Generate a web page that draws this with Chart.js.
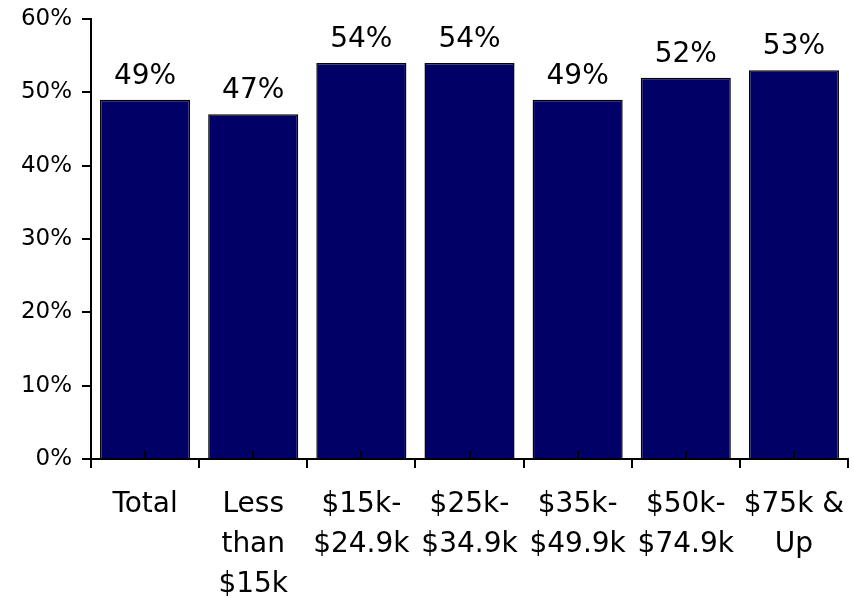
<!DOCTYPE html>
<html>
<head>
<meta charset="utf-8">
<script src="https://cdn.jsdelivr.net/npm/chart.js@4.4.1/dist/chart.umd.min.js"></script>
<style>
  html, body { margin: 0; padding: 0; background: #fff; }
  #chart { display: block; }
</style>
</head>
<body>
<canvas id="chart" width="854" height="598"></canvas>
<script>
// categorias de ingreso (etiquetas en varias lineas)
const categorias = [
    ['Total'],
    ['Less', 'than', '$15k'],
    ['$15k-', '$24.9k'],
    ['$25k-', '$34.9k'],
    ['$35k-', '$49.9k'],
    ['$50k-', '$74.9k'],
    ['$75k &', 'Up']
];
// valores en porcentaje
const valores = [49, 47, 54, 54, 49, 52, 53];
// eje y
const yMin = 0;
const yMax = 60;
const yPaso = 10;

const fuente = 'DejaVu Sans';

// etiquetas encima de cada barra
const etiquetasBarras = {
    id: 'etiquetasBarras',
    afterDatasetsDraw(chart) {
        const { ctx } = chart;
        const meta = chart.getDatasetMeta(0);
        ctx.save();
        ctx.font = '28px "' + fuente + '"';
        ctx.fillStyle = '#000';
        ctx.textAlign = 'center';
        ctx.textBaseline = 'alphabetic';
        meta.data.forEach((bar, i) => {
            ctx.fillText(valores[i] + '%', bar.x, bar.y - 16);
        });
        ctx.restore();
    }
};

// marcas pequeñas hacia arriba en el centro de cada categoria
const marcasCentro = {
    id: 'marcasCentro',
    afterDatasetsDraw(chart) {
        const { ctx, scales } = chart;
        const x = scales.x;
        const base = chart.chartArea.bottom;
        ctx.save();
        ctx.strokeStyle = '#000';
        ctx.lineWidth = 2;
        ctx.beginPath();
        for (let i = 0; i < categorias.length; i++) {
            const px = Math.round(x.getPixelForValue(i));
            ctx.moveTo(px, base);
            ctx.lineTo(px, base - 8);
        }
        ctx.stroke();
        ctx.restore();
    }
};

new Chart(document.getElementById('chart'), {
    type: 'bar',
    data: {
        labels: categorias,
        datasets: [{
            data: valores,
            backgroundColor: '#000066',
            borderColor: '#000000',
            borderWidth: 1.5,
            categoryPercentage: 1,
            barPercentage: 0.833
        }]
    },
    options: {
        responsive: false,
        animation: false,
        layout: { padding: 0 },
        plugins: {
            legend: { display: false },
            tooltip: { enabled: false }
        },
        scales: {
            x: {
                afterFit(scale) {
                    scale.height = 139;
                    scale.paddingLeft = 0;
                    scale.paddingRight = 6;
                },
                grid: {
                    offset: true,
                    drawOnChartArea: false,
                    drawTicks: true,
                    tickLength: 9,
                    color: '#000',
                    lineWidth: 2
                },
                border: { display: true, color: '#000', width: 2 },
                ticks: {
                    color: '#000',
                    font: { family: fuente, size: 28, lineHeight: 1.43 },
                    padding: 17,
                    maxRotation: 0,
                    autoSkip: false
                }
            },
            y: {
                min: yMin,
                max: yMax,
                afterFit(scale) {
                    scale.width = 91;
                    scale.paddingTop = 19;
                    scale.paddingBottom = 0;
                },
                grid: {
                    drawOnChartArea: false,
                    drawTicks: true,
                    tickLength: 9,
                    color: '#000',
                    lineWidth: 2
                },
                border: { display: true, color: '#000', width: 2 },
                ticks: {
                    stepSize: yPaso,
                    color: '#000',
                    font: { family: fuente, size: 23 },
                    padding: 10,
                    callback: (v) => v + '%'
                }
            }
        }
    },
    plugins: [etiquetasBarras, marcasCentro]
});
</script>
</body>
</html>
